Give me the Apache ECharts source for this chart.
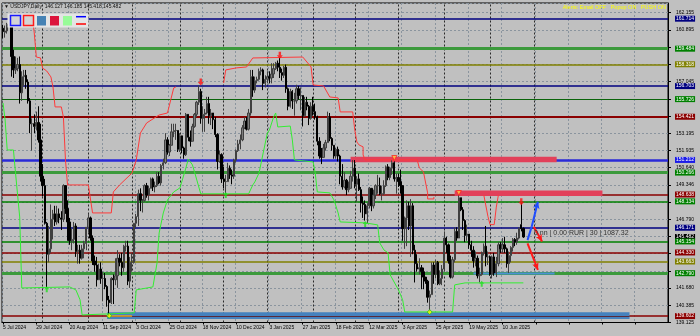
<!DOCTYPE html>
<html><head><meta charset="utf-8">
<script src="https://cdn.jsdelivr.net/npm/echarts@6/dist/echarts.min.js"></script>
<style>html,body{margin:0;padding:0;background:#c0c0c0}#c{width:700px;height:336px}</style>
</head><body><div id="c"></div><script>
// ---- categories (trading days) ----
const MONTHS = ['Jan','Feb','Mar','Apr','May','Jun','Jul','Aug','Sep','Oct','Nov','Dec'];
const holidays = ['2024-12-25','2025-01-01'];
const firstDay = '2024-07-05';
const categoryCount = 320;
const lastBarIndex = 250;
const dates = [];
(function(){let d=new Date(firstDay+'T00:00:00Z');while(dates.length<categoryCount){const wd=d.getUTCDay();const iso=d.toISOString().slice(0,10);if(wd!==0&&wd!==6&&!holidays.includes(iso))dates.push(d.getUTCDate()+' '+MONTHS[d.getUTCMonth()]+' '+d.getUTCFullYear());d=new Date(d.getTime()+86400000);}})();

// ---- OHLC (estimated) ----
const opens=[161.0,160.7,160.8,161.3,161.65,158.9,157.9,158.0,158.3,156.2,157.4,157.5,157.0,155.6,153.9,153.9,153.7,154.0,152.7,150.0,149.3,146.5,144.2,144.6,146.8,147.2,146.6,147.2,146.9,146.8,149.3,147.6,146.6,145.2,145.3,146.3,144.4,144.5,143.9,144.6,145.0,146.2,146.9,145.4,143.7,143.4,142.3,143.1,142.4,142.4,141.8,140.8,140.6,142.4,142.3,142.6,143.9,143.6,143.2,144.8,144.8,142.2,143.6,143.6,146.5,147.0,148.7,148.2,148.2,149.3,148.6,149.1,149.8,149.2,149.3,150.0,149.5,150.8,151.0,152.7,151.8,152.3,153.3,153.4,153.4,152.0,153.0,152.1,151.6,154.6,152.9,152.6,153.7,154.6,155.5,156.3,154.3,154.6,154.7,155.4,154.5,154.7,154.2,153.1,151.1,151.6,149.8,149.6,149.6,150.6,150.1,150.0,151.2,151.9,152.4,152.7,153.6,154.1,153.5,154.7,157.4,156.4,157.1,157.2,157.8,157.9,156.9,157.2,157.4,157.3,157.6,158.0,158.4,158.1,157.7,157.5,158.1,156.5,155.2,156.3,155.6,155.6,156.5,156.0,156.0,154.5,155.5,155.2,154.3,155.2,154.8,154.4,152.6,151.5,151.4,152.1,152.5,154.4,152.8,152.3,151.5,152.0,151.5,150.0,149.2,149.7,149.0,149.1,150.0,150.6,149.4,149.8,149.0,148.0,147.9,147.2,147.8,149.1,147.8,148.6,149.3,149.3,148.7,148.7,149.3,150.7,149.9,150.6,151.0,149.8,149.9,149.6,149.3,146.1,146.9,147.8,146.3,147.8,144.5,143.5,143.1,143.2,142.9,142.5,142.2,141.0,141.2,143.4,142.7,143.6,142.0,142.4,143.1,145.4,144.9,143.7,142.5,143.8,145.9,145.4,148.4,147.5,146.7,145.6,145.7,144.9,144.5,143.7,143.9,142.6,142.7,144.3,144.8,144.0,144.0,142.7,144.0,142.8,143.5,144.9,144.6,144.9,144.6,143.5,144.1,144.7,145.3,145.1,145.4,146.4,146.127];
const closes=[160.75,160.8,161.3,161.65,158.9,157.9,158.0,158.3,156.2,157.4,157.5,157.0,155.6,153.9,153.9,153.7,154.0,152.7,150.0,149.3,146.5,144.2,144.6,146.8,147.2,146.6,147.2,146.9,146.8,149.3,147.6,146.6,145.2,145.3,146.3,144.4,144.5,143.9,144.6,145.0,146.2,146.9,145.4,143.7,143.4,142.3,143.1,142.4,142.4,141.8,140.8,140.6,142.4,142.3,142.6,143.9,143.6,143.2,144.8,144.8,142.2,143.6,143.6,146.5,147.0,148.7,148.2,148.2,149.3,148.6,149.1,149.8,149.2,149.3,150.0,149.5,150.8,151.0,152.7,151.8,152.3,153.3,153.4,153.4,152.0,153.0,152.1,151.6,154.6,152.9,152.6,153.7,154.6,155.5,156.3,154.3,154.6,154.7,155.4,154.5,154.7,154.2,153.1,151.1,151.6,149.8,149.6,149.6,150.6,150.1,150.0,151.2,151.9,152.4,152.7,153.6,154.1,153.5,154.7,157.4,156.4,157.1,157.2,157.8,157.9,156.9,157.2,157.4,157.3,157.6,158.0,158.4,158.1,157.7,157.5,158.1,156.5,155.2,156.3,155.6,155.6,156.5,156.0,156.0,154.5,155.5,155.2,154.3,155.2,154.8,154.4,152.6,151.5,151.4,152.1,152.5,154.4,152.8,152.3,151.5,152.0,151.5,150.0,149.2,149.7,149.0,149.1,150.0,150.6,149.4,149.8,149.0,148.0,147.9,147.2,147.8,149.1,147.8,148.6,149.3,149.3,148.7,148.7,149.3,150.7,149.9,150.6,151.0,149.8,149.9,149.6,149.3,146.1,146.9,147.8,146.3,147.8,144.5,143.5,143.1,143.2,142.9,142.5,142.2,141.0,141.2,143.4,142.7,143.6,142.0,142.4,143.1,145.4,144.9,143.7,142.5,143.8,145.9,145.4,148.4,147.5,146.7,145.6,145.7,144.9,144.5,143.7,143.9,142.6,142.7,144.3,144.8,144.0,144.0,142.7,144.0,142.8,143.5,144.9,144.6,144.9,144.6,143.5,144.1,144.7,145.3,145.1,145.4,146.1,146.1,145.482];
const lows=[160.25,160.3,160.6,161.1,157.4,157.3,157.6,157.8,155.4,155.6,156.7,156.5,155.4,153.2,151.9,153.2,153.4,152.5,149.6,148.5,146.4,141.7,143.6,144.3,145.3,146.3,146.4,146.5,146.0,146.6,147.2,145.2,144.9,144.5,145.0,144.0,143.5,143.5,143.8,143.9,144.5,145.8,145.2,143.4,142.9,141.8,142.3,142.0,140.7,141.6,140.3,139.6,140.5,140.5,141.9,141.7,143.3,142.6,142.9,144.4,141.9,141.7,142.9,143.5,146.2,146.3,147.4,147.3,148.1,148.4,148.2,149.1,148.9,148.8,149.2,149.4,149.3,150.5,150.9,151.6,151.5,152.3,152.9,152.7,151.8,151.8,151.7,151.3,151.5,152.6,152.2,152.6,153.6,154.4,155.3,153.9,153.3,153.3,154.6,153.9,153.8,153.5,152.9,150.5,151.0,149.5,149.1,148.6,149.6,149.8,149.4,149.8,151.0,151.8,152.0,152.6,153.5,153.4,153.4,154.5,155.9,156.2,156.9,157.1,157.5,156.4,156.6,156.9,156.9,156.9,157.3,157.9,157.8,157.3,157.1,157.3,156.2,154.9,155.1,155.0,154.5,155.4,155.7,154.9,153.7,154.4,154.9,153.8,154.2,154.5,154.2,152.3,151.3,150.9,151.4,151.9,152.5,152.6,151.9,151.3,151.3,151.1,149.4,149.0,149.1,148.6,148.8,149.1,149.6,149.1,148.1,148.9,147.3,146.9,146.7,146.5,147.6,147.4,147.6,148.3,148.7,148.6,148.2,148.6,149.2,149.7,149.7,150.1,149.6,148.7,149.2,148.7,145.2,144.6,144.8,146.0,144.0,144.2,142.1,142.9,142.7,141.6,141.6,142.0,140.6,139.9,141.2,142.0,142.4,141.9,141.9,141.9,142.9,144.3,143.5,142.4,142.4,143.6,145.2,145.4,147.4,146.0,145.1,145.2,144.6,144.0,143.2,143.3,142.4,142.1,142.6,144.1,143.3,143.4,142.6,142.4,142.6,142.5,143.3,144.3,144.3,144.3,143.2,142.8,143.6,144.4,144.8,144.9,145.3,145.9,145.418];
const highs=[161.25,161.2,161.4,161.8,161.75,159.4,158.9,158.8,158.9,157.8,157.9,157.9,157.2,155.8,154.3,154.6,154.8,155.2,153.9,150.9,149.8,146.6,146.3,147.9,147.5,147.8,147.8,147.6,147.4,149.4,149.1,148.2,146.9,146.1,146.6,146.5,144.9,144.9,144.9,145.2,146.2,147.2,147.0,145.6,144.1,144.0,143.5,143.6,142.9,142.8,141.9,141.1,142.5,142.7,143.9,144.5,144.2,144.3,144.9,145.2,145.2,144.0,144.3,146.5,147.2,149.0,149.1,148.3,149.4,149.5,149.3,149.9,149.9,149.6,150.3,150.3,150.9,151.3,153.2,152.9,152.4,153.9,153.9,153.9,153.4,153.2,152.5,152.2,154.7,154.6,153.4,153.9,154.7,155.6,156.75,156.5,155.2,155.0,155.9,155.9,155.0,154.7,154.4,153.2,151.9,151.7,150.7,150.1,151.0,150.8,150.5,151.3,152.0,152.7,153.1,153.8,154.4,154.4,155.0,157.9,157.9,157.4,157.4,158.0,158.1,158.0,157.5,157.8,157.8,158.4,158.4,158.5,158.6,158.87,158.0,158.2,158.3,156.6,156.5,156.4,156.2,156.8,156.7,156.6,156.0,155.9,155.9,155.3,155.5,155.9,155.4,154.5,152.9,152.1,152.4,152.7,154.8,154.7,152.9,152.3,152.1,152.2,151.6,150.9,150.3,149.8,149.6,150.4,151.2,151.2,150.0,150.2,149.2,148.5,148.2,148.0,149.2,149.1,149.0,149.4,150.1,149.9,149.3,149.7,150.8,150.9,150.7,151.2,151.1,150.2,150.2,150.5,149.3,147.0,148.2,148.1,148.3,148.0,144.9,144.2,143.9,143.4,143.2,142.5,142.3,141.5,143.6,143.6,143.8,143.7,143.0,143.4,145.9,145.5,145.0,144.1,144.0,146.2,146.2,148.65,148.4,147.7,146.8,146.4,145.7,145.2,144.8,144.4,144.1,143.2,144.4,145.0,146.3,144.4,144.1,144.1,144.3,144.0,145.1,145.1,145.4,145.5,144.7,144.4,144.8,145.4,145.4,145.8,146.2,148.0,146.185];

// ---- price axis ----
const priceMin = 139.125, priceMax = 162.876, priceStep = 1.27945;
const yTickLabels = ['139.125','140.385','141.680','','','','146.790','','149.346','150.640','151.935','153.195','','','157.045','','','160.895','162.155'];

// ---- horizontal levels ----
const levelValues = [161.714,159.484,158.318,156.703,155.726,154.421,151.212,150.266,148.638,148.134,146.171,145.482,145.154,144.330,143.663,142.790,139.602];
const levelLabels = ['161.714','159.484','158.318','156.703','155.726','154.421','151.212','150.266','148.638','148.134','146.171','145.482','145.154','144.330','143.663','142.790','139.602'];
const levelColors = ['#000080','#3c9a3c','#808000','#000080','#0a640a','#8b0000','#2a2ad8','#3c9a3c','#8b0000','#008000','#000080','rgba(0,0,0,0)','#008000','#8b0000','#808000','#3c9a3c','#8b0000'];
const levelLabelBg = ['#000080','#008000','#808000','#000080','#008000','#8b0000','#1a1ae8','#008000','#8b0000','#008000','#000080','#000000','#008000','#8b0000','#808000','#008000','#8b0000'];
const levelWidths = [1.5,3,1.5,1.5,1.2,1.8,2.5,3,1.5,1.5,1.5,0,1.5,1.5,1.5,3,1.5];

// ---- month separators (bar index) ----
const monthStarts = [19,41,62,85,106,127,149,169,190,212,234,255];

// ---- channel lines [barIndex, price] ----
const redLine1 = [[14.4,161.98],[15.4,160.65],[16.3,158.86],[17.8,158.79],[19.2,158.04],[21.1,157.82],[22.6,157.38],[24.0,156.63],[24.5,155.15],[28.4,155.15],[28.8,154.40],[29.8,151.21],[31.2,149.35],[40.8,149.35],[42.8,147.27],[52.4,147.27],[52.9,148.83],[56.2,149.35],[62.0,150.24],[64.4,151.21],[65.8,153.21],[69.2,153.96],[75.4,154.55],[78.8,154.70],[81.7,156.56],[82.7,156.63]];
const redLine2 = [[105.7,156.93],[106.7,157.90],[111.5,158.05],[117.3,158.12],[120.1,158.79],[144.2,158.86],[147.5,158.12],[149.0,156.78],[153.8,156.71],[157.2,155.89],[160.5,155.82],[161.9,154.78],[168.2,154.78],[169.1,153.44],[170.1,152.55],[170.6,152.33],[172.5,152.18],[173.0,151.58],[174.0,151.21],[199.4,151.21],[200.4,150.62],[201.8,150.32],[203.7,148.76],[204.2,148.31],[206.6,148.31],[207.1,148.46]];
const redLine3 = [[230.8,148.6],[233.2,147.0],[234.0,146.4],[236.4,146.4],[237.2,147.7],[237.5,148.6]];
const greenLine = [[0,155.44],[1.0,154.18],[1.9,151.95],[4.8,151.95],[5.8,150.24],[8.2,146.97],[9.1,141.69],[32.2,141.77],[34.6,141.55],[37.0,140.81],[38.4,139.69],[62.5,139.84],[64.4,141.55],[71.6,141.77],[74.0,143.56],[75.4,145.78],[76.9,147.27],[78.8,148.24],[81.8,148.83],[85.1,149.13],[87.5,150.69],[89.4,151.28],[90.8,150.84],[92.3,150.32],[94.7,148.69],[117.7,148.69],[119.7,149.35],[121.1,149.58],[122.5,150.24],[124.5,151.73],[126.9,153.21],[128.3,153.44],[129.7,154.40],[131.2,154.70],[132.1,153.66],[137.9,153.73],[139.4,152.70],[140.3,151.21],[149.0,151.06],[149.9,150.24],[150.9,148.83],[157.2,148.76],[158.6,148.24],[160.5,147.27],[161.9,146.60],[174.0,146.53],[179.7,146.38],[181.2,145.04],[182.6,144.52],[184.5,144.30],[186.0,142.67],[189.8,141.55],[192.2,140.81],[193.2,139.91],[216.2,139.91],[217.2,141.92],[222.0,142.07],[249.9,142.07]];

// ---- signal markers [barIndex, price] ----
const buyArrows = [[20.7,141.6],[106.7,148.6],[174.0,146.45],[230.2,142.0]];
const starMarks = [[50.5,139.62],[205.2,139.9]];
const sellArrows = [[94.7,157.0],[133.1,159.0],[249.0,148.1]];
const touchMarks = [[188.4,151.35],[218.6,148.75]];

// ---- zones ----
const zoneStart = [49.8,167.2,217.2,226.0];
const zoneEnd = [301.0,266.2,288.2,265.3];
const zoneLow = [139.38,151.04,148.52,142.70];
const zoneHigh = [139.88,151.45,148.93,142.84];
const zoneColors = ['#4682be','#e2405a','#e2405a','#4a90d4'];
const orangeSeg = [[49.8,139.64],[62.3,139.64]];

// ---- projection arrows ----
const blueArrowTail = [[251.7,145.25],[253.7,146.25]];
const blueArrow = [[253.7,146.25],[257.2,148.11]];
const redArrow1 = [[254.8,146.25],[258.9,145.14]];
const redArrow2 = [[251.7,145.0],[257.2,143.04]];

const FONT = 'Liberation Sans';
const chart = echarts.init(document.getElementById('c'), null, {renderer:'canvas'});
const candleData = opens.map((o,i)=>[o,closes[i],lows[i],highs[i]]);

function lineSeries(pts,color,w){return {type:'line',data:pts,symbol:'none',z:4,silent:true,lineStyle:{color:color,width:w},itemStyle:{color:color}};}
function arrowItem(seg,color){return [{coord:seg[0],lineStyle:{color:color,width:2,type:'solid'},itemStyle:{color:color}},{coord:seg[1],lineStyle:{color:color,width:2,type:'solid'},itemStyle:{color:color}}];}

const option = {
  backgroundColor:'#c0c0c0',
  animation:false,
  grid:{left:2,right:32,top:3,bottom:13.5,show:true,borderColor:'#000',borderWidth:1,backgroundColor:'#c0c0c0'},
  xAxis:{type:'category',data:dates,boundaryGap:true,
    axisLine:{lineStyle:{color:'#000',width:1}},
    axisTick:{show:true,interval:15,length:2,alignWithLabel:true,lineStyle:{color:'#000'}},
    axisLabel:{interval:15,fontSize:5,fontFamily:FONT,color:'#000',align:'left',margin:3,
      formatter:(v,i)=> i<=lastBarIndex? v : ''},
    splitLine:{show:true,interval:15,lineStyle:{color:'#8a949e',type:[2,2],width:1}}},
  yAxis:{type:'value',position:'right',min:priceMin,max:priceMax,interval:priceStep,scale:true,
    axisLine:{show:true,lineStyle:{color:'#000'}},
    axisTick:{show:true,length:3,lineStyle:{color:'#000'}},
    axisLabel:{fontSize:5,fontFamily:FONT,color:'#000',margin:8,showMaxLabel:false,
      formatter:v=>{const k=Math.round((v-priceMin)/priceStep);return yTickLabels[k]||'';}},
    splitLine:{show:true,lineStyle:{color:'#8a949e',type:[2,2],width:1}}},
  series:[
    {type:'line',data:[],z:1,silent:true,
      markLine:{silent:true,z:1,symbol:['none','none'],animation:false,
        data:monthStarts.map(m=>({xAxis:m,lineStyle:{color:'#2a2a2a',width:1,type:[2,2]},label:{show:false}}))
          .concat(levelValues.map((v,i)=>({yAxis:v,lineStyle:{color:levelColors[i],width:levelWidths[i],type:'solid'},
          label:{show:true,position:'end',distance:7,formatter:levelLabels[i],color:'#fff',backgroundColor:levelLabelBg[i],
            fontSize:5,fontFamily:FONT,padding:[1,1,0,1],lineHeight:5}})))
      }},
    {type:'line',data:[],z:2,silent:true,
      markArea:{silent:true,z:2,data:zoneStart.map((s,i)=>[{coord:[s,zoneHigh[i]],itemStyle:{color:zoneColors[i]}},{coord:[zoneEnd[i],zoneLow[i]]}])},
      markLine:{silent:true,z:2,symbol:['none','none'],animation:false,label:{show:false},
        data:[[{coord:[orangeSeg[0][0],levelValues[16]],lineStyle:{color:'#5a2a3a',width:1,type:'solid'}},{coord:[zoneEnd[0],levelValues[16]]}],
              [{coord:orangeSeg[0],lineStyle:{color:'#e8a020',width:1.5,type:'solid'}},{coord:orangeSeg[1]}]]}},
    {type:'candlestick',data:candleData,z:3,barWidth:1.8,silent:true,
      itemStyle:{color:'#7c7c7c',color0:'#000000',borderColor:'#404040',borderColor0:'#000000',borderWidth:1}},
    lineSeries(redLine1,'#ff3a3a',1),
    lineSeries(redLine2,'#ff3a3a',1),
    lineSeries(redLine3,'#ff3a3a',1),
    lineSeries(greenLine,'#33ee33',1),
    {type:'line',data:[],z:5,silent:true,
      markLine:{silent:true,z:5,symbol:['none','arrow'],symbolSize:[5,7],animation:false,label:{show:false},
        data:[arrowItem(blueArrow,'#1f4dff'),arrowItem(redArrow1,'#ff1a1a'),arrowItem(redArrow2,'#ff1a1a'),
          [{coord:blueArrowTail[0],symbol:'none',lineStyle:{color:'#1f4dff',width:2,type:'solid'}},{coord:blueArrowTail[1],symbol:'none',lineStyle:{color:'#1f4dff',width:2,type:'solid'}}]]}},
    {type:'scatter',data:buyArrows,z:6,silent:true,symbol:'path://M5 0 L10 5 L7 5 L7 10 L3 10 L3 5 L0 5 Z',symbolSize:[5,6],itemStyle:{color:'#22dd22'}},
    {type:'scatter',data:sellArrows,z:6,silent:true,symbol:'path://M3 0 L7 0 L7 5 L10 5 L5 10 L0 5 L3 5 Z',symbolSize:[6,7],itemStyle:{color:'#ff1010'}},
    {type:'scatter',data:starMarks,z:6,silent:true,symbol:'diamond',symbolSize:5,itemStyle:{color:'#ffff00',borderColor:'#20c020',borderWidth:1}},
    {type:'scatter',data:touchMarks,z:6,silent:true,symbol:'triangle',symbolRotate:180,symbolSize:5,itemStyle:{color:'#ffd040',borderColor:'#ff2020',borderWidth:1}}
  ],
  graphic:[
    {type:'text',z:100,left:4,top:4,style:{text:'\u25BC USDJPY,Daily  146.127 146.185 145.418 145.482',fontSize:5,fontFamily:FONT,fill:'#111'}},
    {type:'text',z:100,x:666,y:7.3,style:{text:'Alerts: Email OFF   Popup ON   PUSH ON',fontSize:5.5,fontFamily:FONT,fill:'#ffff00',align:'right',verticalAlign:'middle'}},
    {type:'rect',z:100,shape:{x:7.5,y:13.5,width:81,height:14},style:{fill:'#e4e4e4'}},
    {type:'rect',z:101,shape:{x:10.5,y:15.5,width:10,height:10},style:{fill:'#d4d4d4',stroke:'#1a1aff',lineWidth:1.5}},
    {type:'rect',z:101,shape:{x:23.5,y:15.5,width:10,height:10},style:{fill:'#d4d4d4',stroke:'#ff1a1a',lineWidth:1.5}},
    {type:'rect',z:101,shape:{x:37,y:16,width:9,height:9.5},style:{fill:'#4682b4'}},
    {type:'rect',z:101,shape:{x:50,y:16,width:9,height:9.5},style:{fill:'#dc143c'}},
    {type:'rect',z:101,shape:{x:63,y:16,width:9,height:9.5},style:{fill:'#98fb98'}},
    {type:'line',z:101,shape:{x1:76,y1:16.7,x2:86,y2:16.7},style:{stroke:'#0000ff',lineWidth:1.5}},
    {type:'line',z:101,shape:{x1:76,y1:24,x2:86,y2:24},style:{stroke:'#ff0000',lineWidth:1.5}},
    {type:'text',z:100,x:534,y:233.3,style:{text:'0 nn | 0.00 RUR | 30 | 1087.32',fontSize:7,fontFamily:FONT,fill:'#333',verticalAlign:'middle'}}
  ]
};
chart.setOption(option);
</script></body></html>
